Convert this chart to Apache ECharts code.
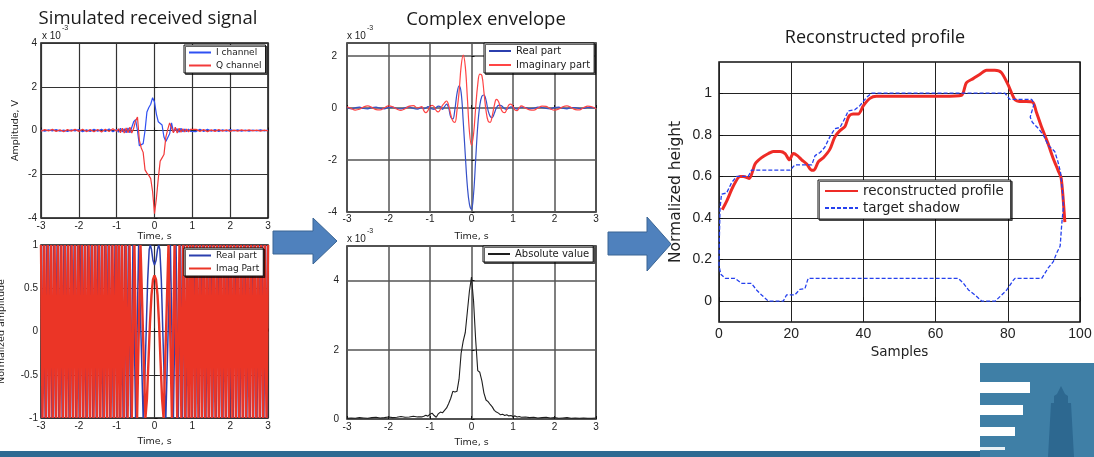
<!DOCTYPE html>
<html><head><meta charset="utf-8">
<script src="https://cdn.jsdelivr.net/npm/echarts@6/dist/echarts.min.js"></script>
<style>html,body{margin:0;padding:0;background:#fff}#c{width:1094px;height:457px}</style>
</head><body><div id="c"></div>
<script>
// ---------- Panel 1: simulated received signal (x 1e-3 V) ----------
const tlTime = [-3.0,-2.9,-2.8,-2.7,-2.6,-2.5,-2.4,-2.3,-2.2,-2.1,-2.0,-1.9,-1.8,-1.7,-1.6,-1.5,-1.4,-1.3,-1.2,-1.1,
 -1.0,-0.95,-0.9,-0.85,-0.8,-0.75,-0.7,-0.65,-0.6,-0.55,-0.5,-0.45,-0.4,-0.35,-0.3,-0.25,-0.2,-0.15,-0.1,-0.05,0,
 0.05,0.1,0.15,0.2,0.25,0.3,0.35,0.4,0.45,0.5,0.55,0.6,0.65,0.7,0.75,0.8,0.85,0.9,0.95,1.0,
 1.1,1.2,1.3,1.4,1.5,1.6,1.7,1.8,1.9,2.0,2.1,2.2,2.3,2.4,2.5,2.6,2.7,2.8,2.9,3.0];
const iChannel = [0.02,-0.03,0.03,-0.02,0.04,-0.03,0.02,-0.04,0.03,-0.02,0.04,-0.05,0.03,-0.04,0.05,-0.03,0.06,-0.05,0.07,-0.06,
 0.05,-0.08,0.1,-0.06,0.08,-0.1,0.12,-0.1,0.15,0.4,0.5,0.0,-0.7,-0.72,-0.6,0.0,0.85,1.05,1.2,1.5,1.3,
 0.75,0.4,0.48,0.25,-0.3,-0.5,-0.45,-0.15,0.35,-0.05,-0.12,0.08,-0.08,0.1,-0.06,0.07,-0.05,0.06,-0.04,0.05,
 -0.05,0.06,-0.04,0.05,-0.03,0.04,-0.04,0.03,-0.03,0.04,-0.02,0.03,-0.03,0.02,-0.03,0.02,-0.02,0.03,-0.02,0.02];
const qChannel = [-0.03,0.04,-0.02,0.05,-0.04,0.03,-0.05,0.04,-0.03,0.05,-0.04,0.06,-0.05,0.04,-0.06,0.05,-0.07,0.06,-0.05,0.08,
 -0.03,0.08,-0.1,0.1,-0.12,0.12,-0.1,0.15,-0.12,0.1,0.45,0.62,-0.45,-0.8,-1.0,-1.8,-1.95,-2.05,-2.2,-2.8,-3.8,
 -3.1,-2.2,-1.4,-1.25,-1.1,-0.3,0.05,0.35,0.3,-0.1,0.15,-0.12,0.1,-0.08,0.08,-0.07,0.06,-0.06,0.05,-0.04,
 0.05,-0.04,0.04,-0.05,0.03,-0.04,0.04,-0.03,0.03,-0.04,0.02,-0.03,0.03,-0.02,0.03,-0.02,0.02,-0.03,0.02,-0.02];

// ---------- Panel 2: normalized chirp (real / imag turning points) ----------
const chirpReTime = [-2.98,-2.935,-2.89,-2.845,-2.8,-2.755,-2.71,-2.665,-2.62,-2.575,-2.53,-2.485,-2.44,-2.395,-2.35,-2.305,-2.26,-2.215,-2.17,-2.125,-2.08,-2.035,-1.99,-1.945,-1.9,-1.855,-1.81,-1.765,-1.72,-1.675,-1.63,-1.585,-1.54,-1.495,-1.45,-1.405,-1.36,-1.315,-1.27,-1.225,-1.18,-1.135,-1.09,-1.045,
 -1.0,-0.96,-0.92,-0.875,-0.83,-0.785,-0.74,-0.69,-0.63,-0.57,-0.5,-0.42,-0.3,-0.26,-0.22,-0.18,-0.14,-0.11,-0.08,-0.04,0,0.04,0.08,0.11,0.14,0.18,0.22,0.26,0.3,0.42,0.5,0.57,0.63,0.69,0.74,0.785,0.83,0.875,0.92,0.96,1.0,
 1.045,1.09,1.135,1.18,1.225,1.27,1.315,1.36,1.405,1.45,1.495,1.54,1.585,1.63,1.675,1.72,1.765,1.81,1.855,1.9,1.945,1.99,2.035,2.08,2.125,2.17,2.215,2.26,2.305,2.35,2.395,2.44,2.485,2.53,2.575,2.62,2.665,2.71,2.755,2.8,2.845,2.89,2.935,2.98];
const chirpReVal = [-1,1,-1,1,-1,1,-1,1,-1,1,-1,1,-1,1,-1,1,-1,1,-1,1,-1,1,-1,1,-1,1,-1,1,-1,1,-1,1,-1,1,-1,1,-1,1,-1,1,-1,1,-1,1,
 -1,1,-1,1,-1,1,-1,1,-1,1,-1,1,-1,-0.6,0.0,0.6,0.95,1,0.95,0.82,0.77,0.82,0.95,1,0.95,0.6,0,-0.6,-1,1,-1,1,-1,1,-1,1,-1,1,-1,1,-1,
 1,-1,1,-1,1,-1,1,-1,1,-1,1,-1,1,-1,1,-1,1,-1,1,-1,1,-1,1,-1,1,-1,1,-1,1,-1,1,-1,1,-1,1,-1,1,-1,1,-1,1,-1,1,-1];
const chirpImTime = [-3.0,-2.96,-2.91,-2.87,-2.82,-2.78,-2.73,-2.69,-2.64,-2.6,-2.55,-2.51,-2.46,-2.42,-2.37,-2.33,-2.28,-2.24,-2.19,-2.15,-2.1,-2.06,-2.01,-1.97,-1.92,-1.88,-1.83,-1.79,-1.74,-1.7,-1.65,-1.61,-1.56,-1.52,-1.47,-1.43,-1.38,-1.34,-1.29,-1.25,-1.2,-1.16,-1.11,-1.07,-1.02,
 -0.98,-0.94,-0.9,-0.855,-0.81,-0.76,-0.71,-0.66,-0.6,-0.53,-0.46,-0.37,-0.24,-0.2,-0.16,-0.12,-0.08,-0.04,0,0.04,0.08,0.12,0.16,0.2,0.24,0.37,0.46,0.53,0.6,0.66,0.71,0.76,0.81,0.855,0.9,0.94,0.98,
 1.02,1.07,1.11,1.16,1.2,1.25,1.29,1.34,1.38,1.43,1.47,1.52,1.56,1.61,1.65,1.7,1.74,1.79,1.83,1.88,1.92,1.97,2.01,2.06,2.1,2.15,2.19,2.24,2.28,2.33,2.37,2.42,2.46,2.51,2.55,2.6,2.64,2.69,2.73,2.78,2.82,2.87,2.91,2.96,3.0];
const chirpImVal = [1,-1,1,-1,1,-1,1,-1,1,-1,1,-1,1,-1,1,-1,1,-1,1,-1,1,-1,1,-1,1,-1,1,-1,1,-1,1,-1,1,-1,1,-1,1,-1,1,-1,1,-1,1,-1,1,
 -1,1,-1,1,-1,1,-1,1,-1,1,-1,1,-1,-0.78,-0.35,0.1,0.42,0.6,0.65,0.6,0.42,0.1,-0.35,-0.78,-1,1,-1,1,-1,1,-1,1,-1,1,-1,1,-1,
 1,-1,1,-1,1,-1,1,-1,1,-1,1,-1,1,-1,1,-1,1,-1,1,-1,1,-1,1,-1,1,-1,1,-1,1,-1,1,-1,1,-1,1,-1,1,-1,1,-1,1,-1,1,-1,1];

// ---------- Panels 3 & 4: complex envelope (x 1e-3) ----------
const envTime = [-3.0,-2.9,-2.8,-2.7,-2.6,-2.5,-2.4,-2.3,-2.2,-2.1,-2.0,-1.9,-1.8,-1.7,-1.6,-1.5,-1.4,-1.3,
 -1.2,-1.15,-1.1,-1.05,-1.0,-0.95,-0.9,-0.85,-0.8,-0.75,-0.7,-0.65,-0.6,-0.55,-0.5,-0.45,-0.4,-0.35,-0.3,-0.25,-0.2,-0.15,-0.1,-0.05,0,
 0.05,0.1,0.15,0.2,0.25,0.3,0.35,0.4,0.45,0.5,0.55,0.6,0.65,0.7,0.75,0.8,0.85,0.9,0.95,1.0,1.05,1.1,1.15,1.2,
 1.3,1.4,1.5,1.6,1.7,1.8,1.9,2.0,2.1,2.2,2.3,2.4,2.5,2.6,2.7,2.8,2.9,3.0];
const realPart = [0.02,-0.03,0.01,0.03,-0.02,-0.03,0.02,0.03,-0.01,-0.03,0.02,0.03,-0.02,-0.03,0.01,0.04,-0.02,-0.04,
 0.02,-0.03,0.0,0.05,0.03,-0.04,-0.05,0.02,0.07,0.05,-0.05,0.05,0.15,0.0,-0.35,-0.42,-0.05,0.55,0.85,0.6,-0.5,-1.8,-3.0,-3.7,-3.9,
 -3.3,-2.0,-0.7,0.1,0.45,0.5,0.3,-0.1,-0.32,-0.37,-0.2,0.0,0.1,0.1,0.05,-0.03,-0.05,0.0,0.04,0.03,-0.02,-0.04,0.0,0.03,
 0.02,-0.03,-0.01,0.03,0.02,-0.02,-0.03,0.02,0.03,-0.01,-0.03,0.02,0.02,-0.02,-0.02,0.02,0.01,-0.01];
const imagPart = [0.05,-0.02,-0.08,-0.05,0.04,0.08,0.02,-0.06,-0.07,0.01,0.08,0.05,-0.04,-0.09,-0.03,0.07,0.09,0.0,
 0.05,-0.1,-0.18,-0.1,0.05,0.1,0.05,-0.1,-0.15,-0.05,0.1,0.2,0.27,0.1,-0.25,-0.5,-0.55,-0.1,0.6,1.6,2.03,1.6,0.4,-0.9,-1.44,
 -1.0,0.0,0.9,1.3,1.25,0.6,-0.1,-0.5,-0.55,-0.3,0.1,0.33,0.25,0.0,-0.15,-0.18,-0.05,0.12,0.15,0.05,-0.08,-0.1,0.0,0.08,
 0.0,-0.07,-0.08,0.0,0.07,0.06,-0.03,-0.08,-0.04,0.05,0.08,0.02,-0.06,-0.07,0.01,0.07,0.05,-0.03];
const absValue = [0.02,0.03,0.02,0.04,0.03,0.02,0.04,0.05,0.03,0.04,0.06,0.04,0.05,0.07,0.05,0.06,0.08,0.06,
 0.06,0.08,0.11,0.08,0.14,0.17,0.1,0.05,0.15,0.2,0.18,0.25,0.32,0.45,0.6,0.8,0.78,0.8,1.15,1.9,2.25,2.5,3.1,3.7,4.1,
 3.4,2.3,1.4,1.35,1.1,0.75,0.55,0.5,0.42,0.35,0.25,0.2,0.17,0.12,0.14,0.1,0.12,0.09,0.1,0.07,0.09,0.06,0.07,0.05,
 0.06,0.04,0.05,0.03,0.04,0.05,0.03,0.04,0.02,0.03,0.04,0.02,0.03,0.02,0.03,0.02,0.02,0.03];

// ---------- Panel 5: reconstructed profile ----------
const profileX = [0.9,2.1,4,5.8,6.7,8.4,10,11.8,13.7,15,16.9,18.3,19.5,20.6,21.7,22.9,24.3,25.6,26.3,27.5,28.9,30.7,32.1,33.5,34.9,36,37.2,38.6,40,41.8,43.6,50,56,62,67.2,68.5,70.4,72.2,74.1,76.4,78.2,80.1,81.9,83.3,85.1,87,87.9,89.3,91.1,92.5,93.9,94.8,95.8];
const profileY = [0.44,0.48,0.555,0.6,0.6,0.59,0.66,0.69,0.71,0.72,0.72,0.71,0.68,0.71,0.7,0.68,0.66,0.63,0.63,0.67,0.69,0.73,0.79,0.82,0.84,0.89,0.9,0.9,0.94,0.975,0.985,0.985,0.985,0.985,0.99,1.05,1.07,1.09,1.11,1.11,1.1,1.04,0.97,0.96,0.96,0.955,0.91,0.84,0.76,0.69,0.63,0.59,0.38];
const shadowX = [0,0.1,0.3,0.7,2.1,3.5,4.9,8.1,9,19.7,21,25.7,26.6,28,29.3,30.7,32.1,33.5,34.9,35.8,37.6,39,40.9,42.3,79.2,80.6,86.6,87.3,86.2,86.8,88.5,89.8,91.2,93,93.9,94.6,95.2,95.4,95.1,94.9,94.5,93.5,92.6,91.2,89.4,82,81.5,79.7,78.3,76.5,72.8,70.9,69.1,67.7,66.3,24.7,23.8,22.4,21,18.7,17.8,13.7,11.8,10.4,9,6.3,4.4,1.7,0.5,0];
const shadowY = [0.17,0.3,0.45,0.515,0.52,0.57,0.6,0.6,0.63,0.63,0.655,0.655,0.7,0.715,0.74,0.79,0.83,0.835,0.88,0.915,0.92,0.94,0.98,1.0,1.0,0.97,0.97,0.95,0.885,0.86,0.83,0.8,0.75,0.72,0.67,0.62,0.52,0.45,0.4,0.36,0.265,0.23,0.19,0.16,0.11,0.11,0.1,0.054,0.03,0,0,0.03,0.054,0.086,0.11,0.11,0.06,0.057,0.03,0.03,0,0,0.03,0.054,0.086,0.086,0.11,0.11,0.13,0.17];
const profileYTicks = [0,0.2,0.4,0.6,0.8,1];

// ---------- build ----------
const zip = (xs, ys) => xs.map((x, i) => [x, ys[i]]);
const LS = 'Liberation Sans', DV = 'DejaVu Sans', TF = 'Open Sans';
const G = (left, top, width, height) => ({left, top, width, height, show: true, containLabel: false, outerBoundsMode: 'none',
  borderColor: '#111', borderWidth: 1.5, backgroundColor: '#fff'});
const sup = {a: {fontFamily: LS, fontSize: 10, fill: '#222', lineHeight: 16, verticalAlign: 'bottom'},
             b: {fontFamily: LS, fontSize: 7, fill: '#222', lineHeight: 7, verticalAlign: 'top', padding: [0, 0, 0, 1]}};
function xA(gi, o) {
  return Object.assign({
    type: 'value', gridIndex: gi, min: -3, max: 3, interval: 1,
    name: 'Time, s', nameLocation: 'middle', nameGap: 17,
    nameTextStyle: {fontFamily: DV, fontSize: 9.5, color: '#222'},
    axisLine: {show: false},
    axisTick: {show: true, inside: true, length: 3, lineStyle: {color: '#111'}},
    axisLabel: {fontFamily: LS, fontSize: 10, color: '#222', margin: 3},
    splitLine: {show: true, lineStyle: {color: '#333', width: 1.2}}
  }, o);
}
function yA(gi, o) {
  return Object.assign({
    type: 'value', gridIndex: gi,
    nameTextStyle: {fontFamily: DV, fontSize: 9.5, color: '#222'},
    axisLine: {show: false},
    axisTick: {show: true, inside: true, length: 3, lineStyle: {color: '#111'}},
    axisLabel: {fontFamily: LS, fontSize: 10, color: '#222', margin: 4},
    splitLine: {show: true, lineStyle: {color: '#333', width: 1.2}}
  }, o);
}
const midSplit = {show: true, lineStyle: {color: '#555', width: 1.5}};
function legend(o) {
  return Object.assign({
    orient: 'vertical', selectedMode: false, backgroundColor: '#fff', borderColor: '#111', borderWidth: 1,
    shadowColor: 'rgba(0,0,0,0.6)', shadowOffsetX: 1.5, shadowOffsetY: 1.5, shadowBlur: 0,
    padding: [3, 4, 3, 4], itemWidth: 22, itemHeight: 10, itemGap: 4,
    itemStyle: {opacity: 0},
    textStyle: {fontFamily: DV, fontSize: 9, color: '#222'}
  }, o);
}
const line = (name, xi, data, color, width, extra) => Object.assign({
  type: 'line', name, xAxisIndex: xi, yAxisIndex: xi, data, showSymbol: false, symbol: 'none',
  lineStyle: {color, width}, itemStyle: {color}, animation: false
}, extra || {});
const expText = (x, y) => ({type: 'text', x, y, silent: true,
  style: {text: '{a|x 10}{b|-3}', rich: sup, align: 'left', verticalAlign: 'bottom'}});

const option = {
  animation: false,
  backgroundColor: '#fff',
  title: [
    {text: 'Simulated received signal', left: 148, top: 9, textAlign: 'center', padding: 0,
     textStyle: {fontFamily: TF, fontSize: 18.5, fontWeight: 'normal', color: '#1a1a1a'}},
    {text: 'Complex envelope', left: 486, top: 10, textAlign: 'center', padding: 0,
     textStyle: {fontFamily: TF, fontSize: 18.5, fontWeight: 'normal', color: '#1a1a1a'}},
    {text: 'Reconstructed profile', left: 875, top: 29, textAlign: 'center', padding: 0,
     textStyle: {fontFamily: TF, fontSize: 18, fontWeight: 'normal', color: '#1a1a1a'}}
  ],
  grid: [G(41, 43, 227, 175), G(41, 245, 227, 173), G(347, 43, 249, 169), G(347, 246, 249, 173), G(719, 62, 361, 260)],
  xAxis: [
    xA(0, {nameGap: 2}),
    xA(1, {nameGap: 19}),
    xA(2, {nameGap: 20, splitLine: midSplit, axisLabel: {fontFamily: LS, fontSize: 10, color: '#222', margin: 2}}),
    xA(3, {nameGap: 19, splitLine: midSplit}),
    {type: 'value', gridIndex: 4, min: 0, max: 100, interval: 20, name: 'Samples', nameLocation: 'middle', nameGap: 23,
     nameTextStyle: {fontFamily: DV, fontSize: 13.5, color: '#222'}, axisLine: {show: false},
     axisTick: {show: true, inside: true, length: 4, lineStyle: {color: '#111'}},
     axisLabel: {fontFamily: LS, fontSize: 14, color: '#222', margin: 5},
     splitLine: {show: true, lineStyle: {color: '#222', width: 1}}}
  ],
  yAxis: [
    yA(0, {min: -4, max: 4, interval: 2, name: 'Amplitude, V', nameLocation: 'middle', nameGap: 20}),
    yA(1, {min: -1, max: 1, interval: 0.5, name: 'Normalized amplitude', nameLocation: 'middle', nameGap: 34,
      axisLabel: {fontFamily: LS, fontSize: 10, color: '#222', margin: 3}}),
    yA(2, {min: -4, max: 2.5, interval: 2, splitLine: midSplit,
      axisLabel: {fontFamily: LS, fontSize: 10, color: '#222', margin: 10, showMaxLabel: false}}),
    yA(3, {min: 0, max: 5, interval: 2, splitLine: midSplit,
      axisLabel: {fontFamily: LS, fontSize: 10, color: '#222', margin: 8, showMaxLabel: false}}),
    {type: 'value', gridIndex: 4, min: -0.1, max: 1.15, name: 'Normalized height', nameLocation: 'middle', nameGap: 35,
     nameTextStyle: {fontFamily: DV, fontSize: 15.5, color: '#222'}, axisLine: {show: false},
     axisTick: {show: true, inside: true, length: 4, lineStyle: {color: '#111'}, customValues: profileYTicks},
     axisLabel: {fontFamily: LS, fontSize: 14, color: '#222', margin: 7, customValues: profileYTicks},
     splitLine: {show: true, lineStyle: {color: '#222', width: 1}, customValues: profileYTicks}}
  ],
  legend: [
    legend({data: ['I channel', 'Q channel'], left: 184, top: 45}),
    legend({data: ['Real part', 'Imag Part'], left: 184, top: 248}),
    legend({data: ['Real part', 'Imaginary part'], left: 484, top: 43, textStyle: {fontFamily: DV, fontSize: 10, color: '#222'}}),
    legend({data: ['Absolute value'], left: 483, top: 246, textStyle: {fontFamily: DV, fontSize: 10, color: '#222'}}),
    legend({data: ['reconstructed profile', 'target shadow'], left: 818, top: 180, itemWidth: 33, itemHeight: 12, itemGap: 3,
      padding: [4, 7, 4, 6], textStyle: {fontFamily: DV, fontSize: 13.5, color: '#222'}})
  ],
  series: [
    line('I channel', 0, zip(tlTime, iChannel), '#2f50f2', 1.2),
    line('Q channel', 0, zip(tlTime, qChannel), '#f23a3a', 1.2),
    line('Real part', 1, zip(chirpReTime, chirpReVal), '#2b3fae', 1.5),
    line('Imag Part', 1, zip(chirpImTime, chirpImVal), '#eb3526', 2.4),
    line('Real part', 2, zip(envTime, realPart), '#3550c8', 1.2, {smooth: 0.4}),
    line('Imaginary part', 2, zip(envTime, imagPart), '#ff4545', 1.2, {smooth: 0.4}),
    line('Absolute value', 3, zip(envTime, absValue), '#1e1e1e', 1.1),
    line('reconstructed profile', 4, zip(profileX, profileY), '#ee2b26', 3, {smooth: 0.25}),
    line('target shadow', 4, zip(shadowX, shadowY), '#2540ee', 1.3, {lineStyle: {color: '#2540ee', width: 1.3, type: [4, 2]}})
  ],
  graphic: {elements: [
    expText(42, 41), expText(347, 41), expText(347, 244),
    {type: 'polygon', silent: true, shape: {points: [[273,231],[313,231],[313,218],[337,241],[313,264],[313,254],[273,254]]},
     style: {fill: '#4f81bd', stroke: '#3a6594', lineWidth: 1}},
    {type: 'polygon', silent: true, shape: {points: [[608,232],[647,232],[647,217],[671,244],[647,271],[647,255],[608,255]]},
     style: {fill: '#4f81bd', stroke: '#3a6594', lineWidth: 1}},
    {type: 'rect', silent: true, shape: {x: 0, y: 451, width: 1094, height: 6}, style: {fill: '#2e6a92'}},
    {type: 'rect', silent: true, shape: {x: 980, y: 363, width: 114, height: 94}, style: {fill: '#3f7fa6'}},
    {type: 'rect', silent: true, shape: {x: 980, y: 382, width: 50, height: 11}, style: {fill: '#fff'}},
    {type: 'rect', silent: true, shape: {x: 980, y: 405, width: 43, height: 10}, style: {fill: '#fff'}},
    {type: 'rect', silent: true, shape: {x: 980, y: 427, width: 35, height: 9}, style: {fill: '#fff'}},
    {type: 'rect', silent: true, shape: {x: 980, y: 447, width: 25, height: 3}, style: {fill: '#e8f0f5'}},
    {type: 'polygon', silent: true, shape: {points: [[1061,386],[1065,394],[1068,396],[1068,403],[1071,403],[1074,457],[1048,457],[1051,403],[1054,403],[1054,396],[1057,394]]},
     style: {fill: '#2d6890'}}
  ]}
};
const chart = echarts.init(document.getElementById('c'));
chart.setOption(option);
</script></body></html>
